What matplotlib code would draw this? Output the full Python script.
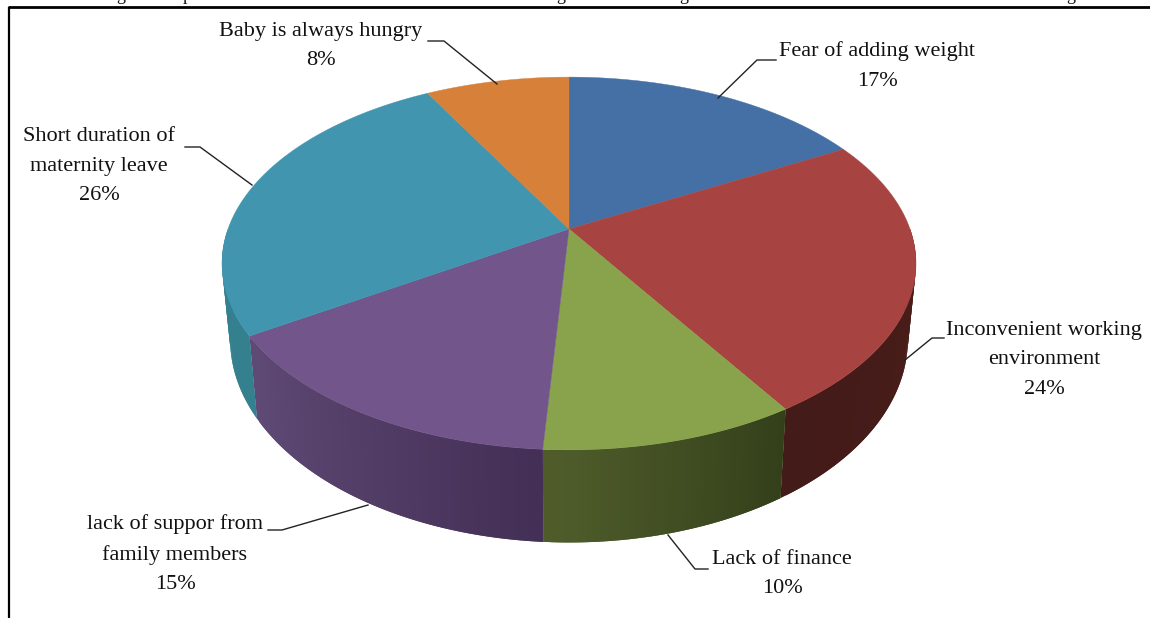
import numpy as np
import matplotlib
matplotlib.use('Agg')
import matplotlib.pyplot as plt
from matplotlib.colors import to_rgb

# values in pie order, clockwise from 12 o'clock
labels = ["Fear of adding weight", "Inconvenient working\nenvironment", "Lack of finance",
          "lack of suppor from\nfamily members", "Short duration of\nmaternity leave", "Baby is always hungry"]
values = [17, 24, 10, 15, 26, 8]
top_colors = ["#4470a5", "#a74441", "#89a34c", "#72558a", "#4195ae", "#d6803a"]
side_right = ["#2c4a70", "#4a1d1a", "#333f1a", "#432f55", "#35808f", "#8a5020"]
side_left = ["#2c4a70", "#431b18", "#4f5c2a", "#5f4a76", "#35808f", "#8a5020"]

# caption above the frame is cut off in the source, only these descenders show
# the letters are a guess from their shape
cut_letters = ['g', 'p', 'g', 'g', 'g']
cut_x = [121, 187, 561, 684, 1071]

plt.rcParams['font.family'] = ['Liberation Serif', 'DejaVu Serif']


def project(theta, a, b, cx, cy, k=0.185):
    # circle seen in perspective, near edge is drawn bigger
    u, v = np.sin(theta), np.cos(theta)
    d = 1 + k * v
    return cx + a * u / d, cy - b * v / d


def top_rim(theta):
    return project(theta, 341, 180, 569, 229)


def bottom_rim(theta):
    return project(theta, 333, 196, 569, 302)


fig = plt.figure(figsize=(11.5, 6.18), dpi=100)
ax = fig.add_axes([0, 0, 1, 1])
ax.set_xlim(0, 1150)
ax.set_ylim(618, 0)
ax.axis('off')

edges = np.radians(np.cumsum([0] + values) * 3.6)

# side wall, only the front half can be seen
for i in range(len(values)):
    lo, hi = max(edges[i], np.pi / 2), min(edges[i + 1], 3 * np.pi / 2)
    if hi <= lo:
        continue
    steps = np.linspace(lo, hi, max(int((hi - lo) * 60), 2))
    c0, c1 = np.array(to_rgb(side_right[i])), np.array(to_rgb(side_left[i]))
    for j in range(len(steps) - 1):
        col = c0 + (c1 - c0) * j / max(len(steps) - 2, 1)
        # each strip runs back under the one before it so no seams show
        th = np.array([steps[max(j - 1, 0)], steps[j + 1]])
        xt, yt = top_rim(th)
        xb, yb = bottom_rim(th)
        ax.fill(np.r_[xt, xb[::-1]], np.r_[yt, yb[::-1]], color=col, lw=0, zorder=2)

# top face
for i in range(len(values)):
    th = np.linspace(edges[i], edges[i + 1], 120)
    x, y = top_rim(th)
    ax.fill(np.r_[569, x], np.r_[229, y], color=top_colors[i], lw=0.3, zorder=3)

# frame
ax.plot([8.5, 8.5], [618, 7], color='black', lw=1.6, zorder=5, solid_capstyle='butt')
ax.plot([8, 1150], [7, 7], color='black', lw=2, zorder=5, solid_capstyle='butt')

for cx, ch in zip(cut_x, cut_letters):
    ax.text(cx, 0, ch, ha='center', va='baseline', fontsize=13, color='#111111', zorder=6)

# labels and leader lines
text_pos = [(877, 66), (1044, 360), (782, 574), (175, 554), (99, 166), (321, 46)]
leaders = [[(718, 98), (757, 60), (776, 60)],
           [(905, 360), (932, 338), (944, 338)],
           [(668, 535), (695, 569), (708, 569)],
           [(368, 505), (282, 530), (268, 530)],
           [(252, 185), (200, 147), (185, 147)],
           [(497, 84), (444, 41), (428, 41)]]
for i in range(len(values)):
    lx, ly = zip(*leaders[i])
    ax.plot(lx, ly, color='#222222', lw=1, zorder=4)
    ax.text(text_pos[i][0], text_pos[i][1], "%s\n%d%%" % (labels[i], values[i]), ha='center', va='center',
            fontsize=16, linespacing=1.75, color='#111111', zorder=6)

fig.savefig('out.png', dpi=100)
